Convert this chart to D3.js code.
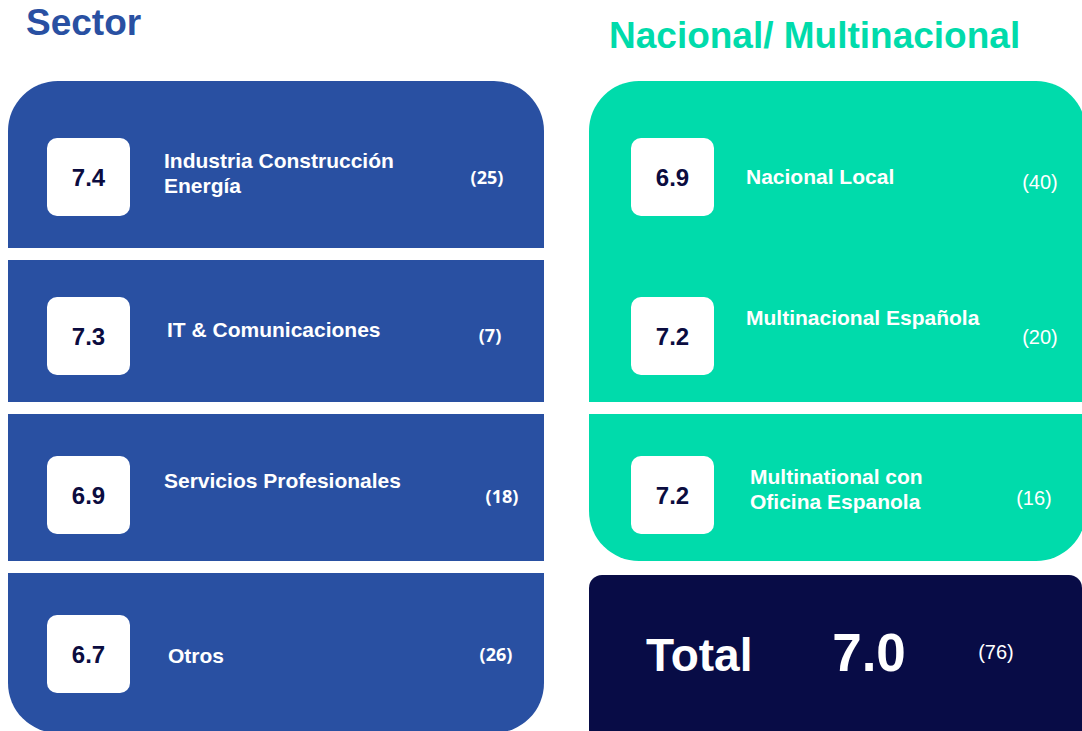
<!DOCTYPE html>
<html>
<head>
<meta charset="utf-8">
<script src="https://cdn.jsdelivr.net/npm/d3@7"></script>
<style>
  body { margin: 0; background: #fff; }
  svg { display: block; font-family: "Liberation Sans", Arial, sans-serif; }
</style>
</head>
<body>
<div id="chart"></div>
<script>
// Sector scores
const sectorNames = [["Industria Construcción", "Energía"], ["IT & Comunicaciones"], ["Servicios Profesionales"], ["Otros"]];
const sectorScores = [7.4, 7.3, 6.9, 6.7];
const sectorCounts = [25, 7, 18, 26];

// Nacional / Multinacional scores
const typeNames = [["Nacional Local"], ["Multinacional Española"], ["Multinational con", "Oficina Espanola"]];
const typeScores = [6.9, 7.2, 7.2];
const typeCounts = [40, 20, 16];

// Overall
const totalLabel = "Total";
const totalScore = 7.0;
const totalCount = 76;

const width = 1082, height = 731;
const colors = {blue: "#2950a2", green: "#00dbab", navy: "#080c46", ink: "#0b0c3f"};

// small per-row nudges of the label / count text (layout only)
const sectorLabelDy = [-4, -6, -14, 2];
const sectorCountX = [487, 490, 502, 496];
const sectorCountDy = [1, 0, 2, 1];
const sectorGapDy = [-8, -13, -13];
const typeLabelDy = [0, -18, -6];
const typeLabelX = [746, 746, 750];
const typeCountX = [1040, 1040, 1034];
const typeCountDy = [5, 1, 3];

const svg = d3.select("#chart")
  .append("svg")
  .attr("width", width)
  .attr("height", height);

/* one band per row, shared by both columns */
const yScale = d3.scaleBand()
  .domain(d3.range(4))
  .range([97, 733]);
const rowMid = i => yScale(i) + yScale.bandwidth() / 2;

/* Column titles */
svg.append("text")
  .attr("x", 26).attr("y", 35)
  .style("font-size", "37px").style("font-weight", "bold")
  .style("fill", colors.blue)
  .text("Sector");

svg.append("text")
  .attr("x", 609).attr("y", 48)
  .style("font-size", "37px").style("font-weight", "bold")
  .style("fill", colors.green)
  .text("Nacional/ Multinacional");

/* Left panel: one rounded block split by white gaps */
const left = {x: 8, w: 536};
svg.append("rect")
  .attr("x", left.x).attr("y", 81)
  .attr("width", left.w).attr("height", 652)
  .attr("rx", 50)
  .attr("fill", colors.blue);

svg.append("g")
  .selectAll("rect")
  .data(d3.range(1, 4))
  .join("rect")
    .attr("x", left.x - 1)
    .attr("y", i => yScale(i) + sectorGapDy[i - 1])
    .attr("width", left.w + 2)
    .attr("height", 12)
    .attr("fill", "#fff");

/* Right panel: rounded green block with one gap, then navy total box */
const right = {x: 589, w: 497};
svg.append("rect")
  .attr("x", right.x).attr("y", 81)
  .attr("width", right.w).attr("height", yScale(3) - 13 - 81)
  .attr("rx", 50)
  .attr("fill", colors.green);

svg.append("rect")
  .attr("x", right.x - 1)
  .attr("y", yScale(2) - 13)
  .attr("width", right.w + 2)
  .attr("height", 12)
  .attr("fill", "#fff");

svg.append("rect")
  .attr("x", right.x).attr("y", yScale(3) + 1)
  .attr("width", 493).attr("height", 180)
  .attr("rx", 13)
  .attr("fill", colors.navy);

/* Score tiles */
const drawRows = (scores, names, counts, opts) => {
  const g = svg.append("g");
  const rows = g.selectAll("g.row")
    .data(scores.map((s, i) => ({score: s, name: names[i], count: counts[i], i})))
    .join("g")
      .attr("class", "row");

  rows.append("rect")
    .attr("x", opts.boxX)
    .attr("y", d => rowMid(d.i) - 38.5)
    .attr("width", 83).attr("height", 78)
    .attr("rx", 10)
    .attr("fill", "#fff");

  rows.append("text")
    .attr("x", opts.boxX + 41.5)
    .attr("y", d => rowMid(d.i) + 1)
    .attr("dy", "0.36em")
    .attr("text-anchor", "middle")
    .style("font-size", "24px").style("font-weight", "bold")
    .style("fill", colors.ink)
    .text(d => d3.format(".1f")(d.score));

  rows.append("text")
    .attr("x", d => opts.labelX[d.i])
    .attr("y", d => rowMid(d.i) + opts.labelDy[d.i] - (d.name.length - 1) * 12.5)
    .style("font-size", "21px").style("font-weight", "bold")
    .style("fill", "#fff")
    .selectAll("tspan")
    .data(d => d.name)
    .join("tspan")
      .attr("x", function() { return d3.select(this.parentNode).attr("x"); })
      .attr("dy", (t, j) => j === 0 ? "0.36em" : "25px")
      .text(t => t);

  rows.append("text")
    .attr("x", d => opts.countX[d.i])
    .attr("y", d => rowMid(d.i) + opts.countDy[d.i])
    .attr("dy", "0.36em")
    .attr("text-anchor", "middle")
    .style("font-family", opts.countFont)
    .style("font-size", opts.countSize)
    .style("font-weight", opts.countWeight)
    .style("fill", "#fff")
    .text(d => `(${d.count})`);
};

drawRows(sectorScores, sectorNames, sectorCounts, {
  boxX: 47,
  labelX: [164, 167, 164, 168],
  labelDy: sectorLabelDy,
  countX: sectorCountX,
  countDy: sectorCountDy,
  countFont: "'Open Sans', sans-serif",
  countSize: "18px",
  countWeight: "bold"
});

drawRows(typeScores, typeNames, typeCounts, {
  boxX: 631,
  labelX: typeLabelX,
  labelDy: typeLabelDy,
  countX: typeCountX,
  countDy: typeCountDy,
  countFont: "'Liberation Sans', Arial, sans-serif",
  countSize: "20px",
  countWeight: "normal"
});

/* Total row */
const totalY = rowMid(3);
svg.append("text")
  .attr("x", 646).attr("y", totalY + 17)
  .style("font-size", "46px").style("font-weight", "bold")
  .style("fill", "#fff")
  .text(totalLabel);

svg.append("text")
  .attr("x", 869).attr("y", totalY + 17)
  .attr("text-anchor", "middle")
  .style("font-size", "53px").style("font-weight", "bold")
  .style("fill", "#fff")
  .text(d3.format(".1f")(totalScore));

svg.append("text")
  .attr("x", 996).attr("y", totalY - 2)
  .attr("dy", "0.36em")
  .attr("text-anchor", "middle")
  .style("font-size", "20px")
  .style("fill", "#fff")
  .text(`(${totalCount})`);
</script>
</body>
</html>
